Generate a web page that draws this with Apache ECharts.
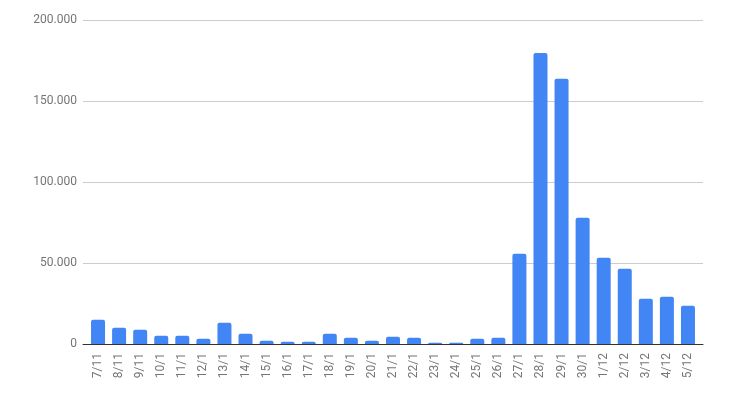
<!DOCTYPE html>
<html>
<head>
<meta charset="utf-8">
<script src="https://cdn.jsdelivr.net/npm/echarts@6/dist/echarts.min.js"></script>
<style>html,body{margin:0;padding:0;background:#fff}#c{width:739px;height:400px}</style>
</head>
<body>
<div id="c"></div>
<script>
const categories = ["7/11","8/11","9/11","10/11","11/11","12/11","13/11","14/11","15/11","16/11","17/11","18/11","19/11","20/11","21/11","22/11","23/11","24/11","25/11","26/11","27/11","28/11","29/11","30/11","1/12","2/12","3/12","4/12","5/12"];
const values = [15000,10000,8800,5100,5100,3300,13100,6400,2000,1400,1400,6400,3900,2000,4500,3900,800,800,3300,3900,55700,179600,163700,78000,53300,46500,28000,29200,23600];
const yTicks = {min:0, max:200000, interval:50000};

function fmt(v){ return String(v).replace(/\B(?=(\d{3})+(?!\d))/g, '.'); }

const chart = echarts.init(document.getElementById('c'));
chart.setOption({
  animation:false,
  grid:[
    {left:83, right:36, top:20, bottom:56},
    {left:87.5, right:40.5, top:20, bottom:56}
  ],
  xAxis:[
    {type:'category', gridIndex:0, data:categories, axisLine:{lineStyle:{color:'#333',width:1}}, axisTick:{show:false}, axisLabel:{show:false}},
    {type:'category', gridIndex:1, data:categories, axisLine:{show:false}, axisTick:{show:false},
     axisLabel:{rotate:90, interval:0, margin:9, color:'#757575', fontFamily:'Roboto', fontSize:12,
       formatter:function(v){ return v.length>4 ? v.slice(0,4) : v; }}}
  ],
  yAxis:[
    {type:'value', gridIndex:0, min:yTicks.min, max:yTicks.max, interval:yTicks.interval,
     axisLine:{show:false}, axisTick:{show:false},
     splitLine:{lineStyle:{color:'#cccccc'}},
     axisLabel:{color:'#757575', fontFamily:'Roboto', fontSize:12, margin:6, formatter:fmt}},
    {type:'value', gridIndex:1, min:yTicks.min, max:yTicks.max, interval:yTicks.interval, show:false}
  ],
  series:[
    {type:'bar', xAxisIndex:1, yAxisIndex:1, data:values, barWidth:14,
     itemStyle:{color:'#4285F4', borderRadius:[2,2,0,0]}}
  ]
});
</script>
</body>
</html>
